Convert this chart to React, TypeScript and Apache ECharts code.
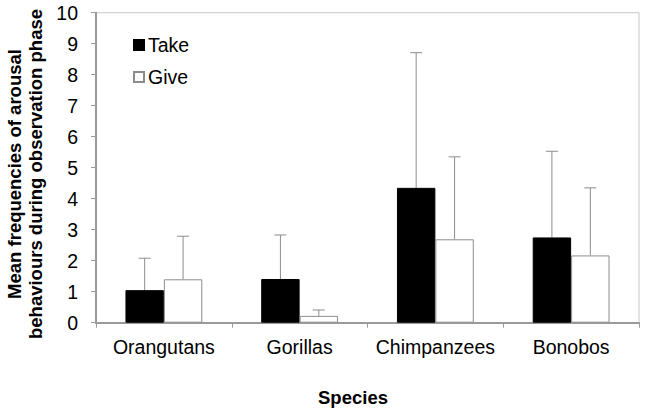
import React, { useEffect, useRef } from "react";
import * as echarts from "echarts";

const categories = ["Orangutans", "Gorillas", "Chimpanzees", "Bonobos"];
const takeMeans = [1.05, 1.41, 4.35, 2.75];
const takeUpper = [2.08, 2.83, 8.71, 5.53];
const giveMeans = [1.4, 0.22, 2.69, 2.17];
const giveUpper = [2.79, 0.41, 5.35, 4.35];
const yTicks = [0, 1, 2, 3, 4, 5, 6, 7, 8, 9, 10];

const FONT = "'Liberation Sans', Arial, sans-serif";
const BAR_FRAC = 0.283;
const FS = 19.5;

function errorSeries(name: string, means: number[], upper: number[], side: number) {
  return {
    type: "custom",
    name: name + " err",
    silent: true,
    z: 1,
    data: means.map((m, i) => [i, m, upper[i]]),
    renderItem: (params: any, api: any) => {
      const band = api.size([1, 0])[0];
      const c = api.coord([api.value(0), api.value(1)]);
      const top = api.coord([api.value(0), api.value(2)]);
      const x = c[0] + side * band * BAR_FRAC / 2;
      const style = { stroke: "#8c8c8c", lineWidth: 1 };
      return {
        type: "group",
        children: [
          { type: "line", shape: { x1: x, y1: c[1], x2: x, y2: top[1] }, style },
          { type: "line", shape: { x1: x - 6, y1: top[1], x2: x + 6, y2: top[1] }, style },
        ],
      };
    },
  };
}

export default function App() {
  const ref = useRef<HTMLDivElement>(null);
  useEffect(() => {
    const chart = echarts.init(ref.current!, null, { renderer: "svg" });
    chart.setOption({
      animation: false,
      textStyle: { fontFamily: FONT },
      grid: {
        left: 96,
        right: 7,
        top: 12.7,
        bottom: 90.3,
        show: true,
        borderColor: "#c8c8c8",
        borderWidth: 1,
        containLabel: false,
      },
      legend: {
        orient: "vertical",
        left: 128,
        top: 30,
        itemWidth: 10,
        itemHeight: 10,
        itemGap: 12,
        icon: "rect",
        data: ["Take", "Give"],
        textStyle: { fontSize: FS, color: "#000", fontFamily: FONT, padding: [0, 0, 0, -1] },
      },
      xAxis: {
        type: "category",
        data: categories,
        axisLine: { lineStyle: { color: "#9a9a9a", width: 2 } },
        axisTick: { show: true, length: 5, alignWithLabel: false, lineStyle: { color: "#9a9a9a" } },
        axisLabel: { interval: 0, fontSize: FS, color: "#000", margin: 14, fontFamily: FONT },
        splitLine: { show: false },
      },
      yAxis: {
        type: "value",
        min: 0,
        max: 10,
        interval: 1,
        axisLine: { show: true, lineStyle: { color: "#9a9a9a", width: 2 } },
        axisTick: { show: true, length: 5, lineStyle: { color: "#9a9a9a" } },
        axisLabel: {
          fontSize: FS,
          color: "#000",
          margin: 18,
          fontFamily: FONT,
          formatter: (v: number) => (yTicks.includes(v) ? String(v) : ""),
        },
        splitLine: { show: false },
      },
      graphic: [
        {
          type: "text",
          x: 14,
          y: 174,
          rotation: Math.PI / 2,
          style: {
            text: "Mean frequencies of arousal",
            fontSize: 18.5,
            fontWeight: "bold",
            fontFamily: FONT,
            fill: "#000",
            align: "center",
            verticalAlign: "middle",
          },
        },
        {
          type: "text",
          x: 35,
          y: 174,
          rotation: Math.PI / 2,
          style: {
            text: "behaviours during observation phase",
            fontSize: 18.5,
            fontWeight: "bold",
            fontFamily: FONT,
            fill: "#000",
            align: "center",
            verticalAlign: "middle",
          },
        },
        {
          type: "text",
          x: 353,
          y: 397,
          style: {
            text: "Species",
            fontSize: 18.5,
            fontWeight: "bold",
            fontFamily: FONT,
            fill: "#000",
            align: "center",
            verticalAlign: "middle",
          },
        },
      ],
      series: [
        errorSeries("Take", takeMeans, takeUpper, -1),
        errorSeries("Give", giveMeans, giveUpper, 1),
        {
          name: "Take",
          type: "bar",
          data: takeMeans,
          barWidth: BAR_FRAC * 100 + "%",
          barGap: "0%",
          z: 2,
          itemStyle: { color: "#000", borderColor: "#000", borderWidth: 1 },
        },
        {
          name: "Give",
          type: "bar",
          data: giveMeans,
          barWidth: BAR_FRAC * 100 + "%",
          barGap: "0%",
          z: 2,
          itemStyle: { color: "#fff", borderColor: "#8c8c8c", borderWidth: 1 },
        },
      ],
    });
    return () => chart.dispose();
  }, []);
  return (
    <div
      ref={ref}
      style={{ position: "fixed", left: 0, top: 0, width: 646, height: 413, background: "#fff" }}
    />
  );
}
